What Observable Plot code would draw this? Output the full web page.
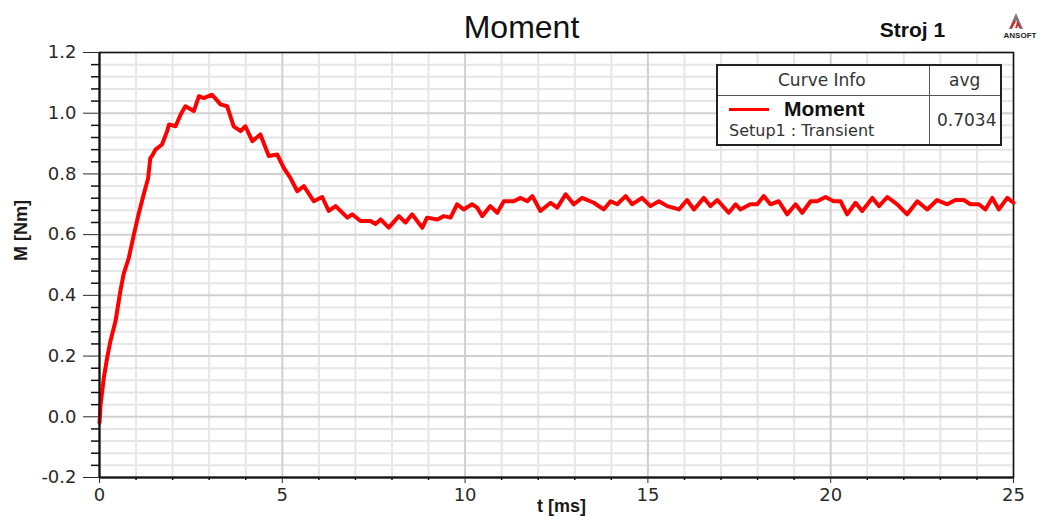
<!DOCTYPE html>
<html>
<head>
<meta charset="utf-8">
<script src="https://cdn.jsdelivr.net/npm/d3@7"></script>
<script src="https://cdn.jsdelivr.net/npm/@observablehq/plot@0.6"></script>
<style>
  html, body { margin: 0; padding: 0; background: #fff; }
  #wrap { position: relative; width: 1042px; height: 517px; overflow: hidden; background: #fff; }
  #legend { position: absolute; left: 716px; top: 64px; width: 286px; height: 82px; box-sizing: border-box;
    border: 2px solid #222; background: #fff; font-family: "DejaVu Sans", sans-serif; color: #333; }
  #legend .vsep { position: absolute; left: 211px; top: 0; bottom: 0; border-left: 1.5px solid #555; }
  #legend .hsep { position: absolute; left: 0; right: 0; top: 29px; border-top: 1.5px solid #555; }
  #legend .t { position: absolute; white-space: nowrap; }
  #logo { position: absolute; left: 998px; top: 12px; width: 44px; height: 28px; }
</style>
</head>
<body>
<div id="wrap"></div>
<script>
// ---- data ----
const timeMs = [
  0.00,0.03,0.12,0.21,0.30,0.44,0.57,0.66,0.80,0.94,
  1.07,1.21,1.33,1.39,1.44,1.53,1.71,1.85,1.90,2.08,
  2.22,2.35,2.58,2.72,2.85,3.08,3.31,3.49,3.67,3.86,
  3.99,4.18,4.40,4.63,4.86,5.04,5.22,5.41,5.59,5.86,
  6.09,6.27,6.46,6.78,6.91,7.14,7.41,7.55,7.69,7.91,
  8.19,8.37,8.55,8.83,8.96,9.24,9.42,9.60,9.78,9.96,
  10.19,10.33,10.47,10.69,10.88,11.06,11.33,11.52,11.70,11.84,
  12.06,12.34,12.52,12.75,12.97,13.20,13.52,13.79,13.98,14.16,
  14.39,14.57,14.84,15.07,15.30,15.53,15.85,16.07,16.26,16.53,
  16.71,16.90,17.21,17.40,17.53,17.80,17.99,18.17,18.35,18.58,
  18.81,19.04,19.22,19.45,19.63,19.86,20.08,20.27,20.45,20.68,
  20.86,21.14,21.32,21.55,21.82,22.09,22.37,22.64,22.91,23.19,
  23.41,23.64,23.82,24.05,24.23,24.42,24.60,24.83,25.00
];
const momentNm = [
  -0.02,0.04,0.13,0.195,0.25,0.316,0.414,0.47,0.523,0.60,
  0.668,0.733,0.786,0.852,0.86,0.88,0.897,0.941,0.963,0.957,
  0.996,1.023,1.007,1.056,1.05,1.061,1.029,1.023,0.957,0.941,
  0.957,0.908,0.93,0.859,0.864,0.82,0.787,0.743,0.76,0.71,
  0.724,0.678,0.694,0.656,0.667,0.645,0.645,0.635,0.65,0.623,
  0.661,0.64,0.667,0.623,0.656,0.65,0.661,0.656,0.70,0.683,
  0.70,0.689,0.661,0.694,0.672,0.71,0.71,0.721,0.71,0.727,
  0.678,0.705,0.689,0.733,0.70,0.721,0.705,0.683,0.71,0.70,
  0.727,0.70,0.721,0.694,0.71,0.694,0.683,0.714,0.683,0.721,
  0.694,0.714,0.672,0.70,0.683,0.70,0.70,0.727,0.70,0.71,
  0.667,0.70,0.672,0.71,0.71,0.724,0.71,0.71,0.667,0.705,
  0.678,0.721,0.694,0.724,0.70,0.667,0.71,0.683,0.714,0.70,
  0.714,0.714,0.70,0.70,0.683,0.721,0.683,0.721,0.705
];
const xTicks = [0, 5, 10, 15, 20, 25];
const xMinorTicks = [1,2,3,4,6,7,8,9,11,12,13,14,16,17,18,19,21,22,23,24];
const yTicks = [-0.2, 0.0, 0.2, 0.4, 0.6, 0.8, 1.0, 1.2];
const yMinorTicks = [-0.16,-0.12,-0.08,-0.04, 0.04,0.08,0.12,0.16, 0.24,0.28,0.32,0.36,
  0.44,0.48,0.52,0.56, 0.64,0.68,0.72,0.76, 0.84,0.88,0.92,0.96, 1.04,1.08,1.12,1.16];
const titleText = "Moment";
const setupText = "Stroj 1";
const xLabel = "t [ms]";
const yLabel = "M [Nm]";
const legendSeries = "Moment";
const legendSub = "Setup1 : Transient";
const legendAvg = "0.7034";

const data = timeMs.map((t, i) => ({t, m: momentNm[i]}));

const W = 1042, H = 517, mL = 99, mR = 29, mT = 52, mB = 40;
const frameW = W - mL - mR, frameH = H - mT - mB;
const arial = "Liberation Sans, Arial, sans-serif";

const chart = Plot.plot({
  width: W,
  height: H,
  marginLeft: mL,
  marginRight: mR,
  marginTop: mT,
  marginBottom: mB,
  style: {fontFamily: "DejaVu Sans, sans-serif", fontSize: "18px", background: "#fff", color: "#2a2a2a", overflow: "visible"},
  x: {domain: [0, 25], ticks: xTicks, tickSize: 6, tickPadding: 5, tickFormat: d => String(d), label: null},
  y: {domain: [-0.2, 1.2], ticks: yTicks, tickSize: 16, tickPadding: 7, tickFormat: d => d.toFixed(1), label: null},
  marks: [
    Plot.ruleX(xMinorTicks, {stroke: "#e6e6e6", strokeWidth: 2}),
    Plot.ruleY(yMinorTicks, {stroke: "#e6e6e6", strokeWidth: 2}),
    Plot.ruleX(xTicks, {stroke: "#d0d0d0", strokeWidth: 2}),
    Plot.ruleY(yTicks, {stroke: "#d0d0d0", strokeWidth: 2}),
    Plot.frame({stroke: "#111", strokeWidth: 1.5}),
    Plot.lineY(data, {x: "t", y: "m", stroke: "#ff0000", strokeWidth: 4}),
    Plot.ruleX([0], {stroke: "#111", strokeWidth: 2}),
    Plot.ruleY([-0.2], {stroke: "#111", strokeWidth: 2}),
    // minor tick marks outside the frame
    Plot.tickY(yMinorTicks, {stroke: "#111", strokeWidth: 1.5, insetRight: frameW - 8, dx: -8}),
    Plot.tickX(xMinorTicks, {stroke: "#111", strokeWidth: 1.5, insetTop: frameH - 3, dy: 3}),
    Plot.text([yLabel], {frameAnchor: "left", lineAnchor: "middle", dx: -78, dy: -4, rotate: -90, fill: "#1a1a1a", fontWeight: "bold", fontSize: 18, fontFamily: arial}),
    Plot.text([xLabel], {frameAnchor: "bottom", lineAnchor: "middle", dx: 5, dy: 29, fill: "#1a1a1a", fontWeight: "bold", fontSize: 18, fontFamily: arial}),
    Plot.text([titleText], {frameAnchor: "top", lineAnchor: "middle", dx: -35, dy: -25, fill: "#111", fontSize: 32, fontFamily: arial}),
    Plot.text([setupText], {frameAnchor: "top", lineAnchor: "middle", dx: 356, dy: -22, fill: "#111", fontWeight: "bold", fontSize: 21, fontFamily: arial})
  ]
});

const wrap = document.getElementById("wrap");
wrap.appendChild(chart);

// legend box
const legend = document.createElement("div");
legend.id = "legend";
legend.innerHTML = `
  <div class="hsep"></div>
  <div class="vsep"></div>
  <div class="t" style="left:60px; top:4px; font-size:17px;">${"Curve Info"}</div>
  <div class="t" style="left:231px; top:4px; font-size:17px;">${"avg"}</div>
  <div class="t" style="left:11px; top:42px; width:40px; height:3px; background:#ff0000;"></div>
  <div class="t" style="left:66px; top:31px; font-size:21px; font-weight:bold; color:#111; font-family:'Liberation Sans', Arial, sans-serif;">${legendSeries}</div>
  <div class="t" style="left:11px; top:55px; font-size:16px;">${legendSub}</div>
  <div class="t" style="left:219px; top:44px; font-size:17px;">${legendAvg}</div>
`;
wrap.appendChild(legend);

// ANSOFT logo
const logo = document.createElement("div");
logo.id = "logo";
logo.innerHTML = `<svg width="44" height="28" viewBox="0 0 44 28">
  <polygon points="18,1 11,17 14,17 18,8 22,17 25,17" fill="#777"/>
  <line x1="13" y1="16" x2="17" y2="9" stroke="#d22" stroke-width="2"/>
  <line x1="18" y1="16" x2="20" y2="11" stroke="#d22" stroke-width="2"/>
  <line x1="22" y1="16" x2="19" y2="10" stroke="#d22" stroke-width="1.5"/>
  <text x="22" y="26" text-anchor="middle" font-family="Liberation Sans, Arial, sans-serif" font-weight="bold" font-size="8" fill="#222">ANSOFT</text>
</svg>`;
wrap.appendChild(logo);
</script>
</body>
</html>
